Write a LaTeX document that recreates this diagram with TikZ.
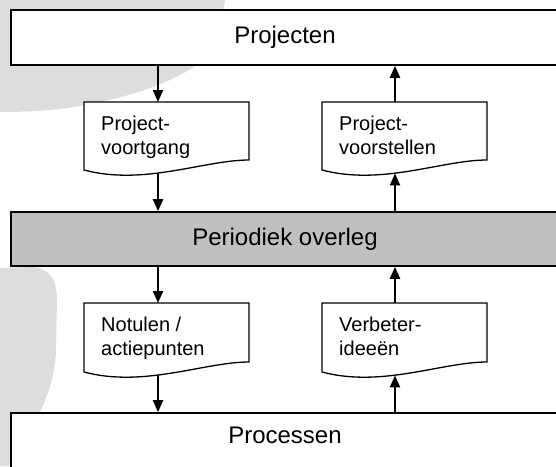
\documentclass[tikz,border=0pt]{standalone}
\usepackage{fontspec}
\setmainfont{Liberation Sans}
\usetikzlibrary{arrows.meta}
\definecolor{wm}{RGB}{221,221,221}
\definecolor{band}{RGB}{192,192,192}
\newcommand{\docshape}[3]{%
  \draw[docline] (#1,#2) -- ({#1+165},#2) -- ({#1+165},{#2+#3})
    .. controls ({#1+120},{#2+#3}) and ({#1+60},{#2+#3+26}) .. (#1,{#2+#3+10}) -- cycle;}
\begin{document}
\begin{tikzpicture}[x=1pt,y=-1pt,
  bigbox/.style={draw, line width=1.6pt, fill=white, minimum width=548pt, minimum height=55pt,
    inner sep=0pt, font=\fontsize{24}{28}\selectfont, text height=17.5pt, text depth=5pt},
  bigtext/.style={inner sep=0pt, font=\fontsize{24}{28}\selectfont},
  doctext/.style={anchor=north west, inner sep=0pt, align=left, font=\fontsize{20}{24}\selectfont},
  docline/.style={draw, line width=1.3pt, fill=white},
  arr/.style={line width=2.2pt, -{Triangle[length=12pt,width=10pt]}}]
\useasboundingbox (0,0) rectangle (556,466);
% faint watermark
\fill[wm] (0,0) -- (225,0) .. controls (220,40) and (205,60) .. (197,65)
  .. controls (160,90) and (100,105) .. (50,110) .. controls (25,112) and (10,112) .. (0,112) -- cycle;
\fill[wm] (0,268) -- (30,267) .. controls (50,267) and (57,280) .. (57,300) -- (56,350)
  .. controls (55,380) and (45,400) .. (40,413) -- (38,466) -- (0,466) -- cycle;
% main boxes
\node[bigbox] (proj) at (285,37.5) {Projecten};
\node[bigbox, fill=band, minimum height=54pt] (overleg) at (285,239) {Periodiek overleg};
\node[bigbox, minimum height=60pt] (proc) at (285,443) {};
\node[bigtext, anchor=base] (proctext) at (285,443) {Processen};
% documents
\docshape{84}{102}{58}
\docshape{322}{102}{58}
\docshape{84}{303}{59}
\docshape{322}{303}{59}
\node[doctext] (t1) at (101,115.5) {Project-\\voortgang};
\node[doctext] (t2) at (339,115.5) {Project-\\voorstellen};
\node[doctext] (t3) at (101,317) {Notulen /\\actiepunten};
\node[doctext] (t4) at (339,317) {Verbeter-\\ideeën};
% connector end points on the documents
\coordinate (d1top) at (158,102);
\coordinate (d1bot) at (158,173.4);
\coordinate (d2top) at (395,102);
\coordinate (d2bot) at (395,173.4);
\coordinate (d3top) at (158,303);
\coordinate (d3bot) at (158,375.4);
\coordinate (d4top) at (395,303);
\coordinate (d4bot) at (395,375.4);
% connectors
\draw[arr] (proj.south -| d1top) -- (d1top);
\draw[arr] (d1bot) -- (d1bot |- overleg.north);
\draw[arr] (overleg.north -| d2bot) -- (d2bot);
\draw[arr] (d2top) -- (d2top |- proj.south);
\draw[arr] (overleg.south -| d3top) -- (d3top);
\draw[arr] (d3bot) -- (d3bot |- proc.north);
\draw[arr] (proc.north -| d4bot) -- (d4bot);
\draw[arr] (d4top) -- (d4top |- overleg.south);
\end{tikzpicture}
\end{document}
